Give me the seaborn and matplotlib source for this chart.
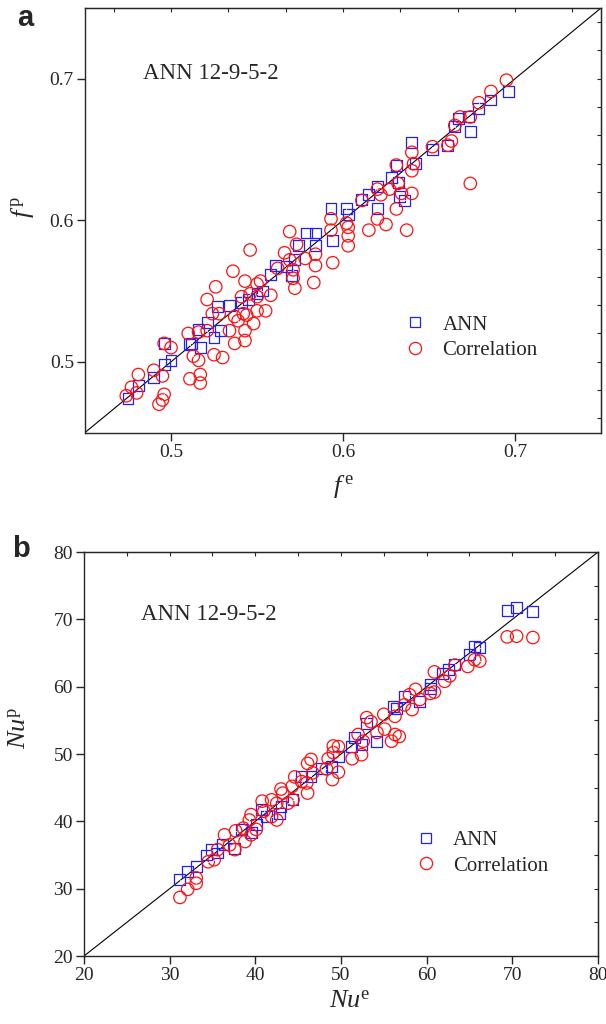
import matplotlib
matplotlib.use("Agg")
import matplotlib.pyplot as plt
from matplotlib.lines import Line2D
from matplotlib.ticker import MultipleLocator
import seaborn as sns
import pandas as pd

# panel a: friction factor, experimental vs predicted
f_ann_e = [0.696, 0.686, 0.679, 0.667, 0.673, 0.674, 0.665, 0.661, 0.652, 0.640,
           0.642, 0.631, 0.628, 0.632, 0.620, 0.615, 0.611, 0.636, 0.633, 0.620,
           0.593, 0.602, 0.603, 0.594, 0.579, 0.584, 0.584, 0.574, 0.572, 0.561,
           0.558, 0.570, 0.553, 0.550, 0.534, 0.527, 0.545, 0.521, 0.516, 0.517,
           0.511, 0.525, 0.529, 0.496, 0.500, 0.496, 0.490, 0.481, 0.475, 0.541,
           0.512, 0.567]
f_ann_p = [0.691, 0.685, 0.679, 0.672, 0.673, 0.663, 0.666, 0.653, 0.650, 0.655,
           0.640, 0.639, 0.630, 0.627, 0.624, 0.618, 0.615, 0.614, 0.617, 0.608,
           0.608, 0.608, 0.604, 0.586, 0.591, 0.591, 0.582, 0.582, 0.572, 0.568,
           0.562, 0.561, 0.550, 0.548, 0.540, 0.539, 0.544, 0.528, 0.523, 0.510,
           0.512, 0.517, 0.522, 0.513, 0.501, 0.498, 0.489, 0.483, 0.474, 0.542,
           0.513, 0.567]

f_cor_e = [0.695, 0.686, 0.679, 0.668, 0.674, 0.665, 0.663, 0.661, 0.652, 0.640,
           0.674, 0.631, 0.641, 0.640, 0.620, 0.632, 0.627, 0.622, 0.634, 0.640,
           0.611, 0.631, 0.620, 0.625, 0.615, 0.637, 0.593, 0.602, 0.593, 0.603,
           0.603, 0.603, 0.569, 0.573, 0.546, 0.566, 0.569, 0.584, 0.578, 0.584,
           0.562, 0.571, 0.594, 0.583, 0.571, 0.572, 0.536, 0.543, 0.550, 0.552,
           0.526, 0.521, 0.541, 0.546, 0.550, 0.558, 0.542, 0.537, 0.528, 0.524,
           0.555, 0.550, 0.544, 0.548, 0.534, 0.543, 0.543, 0.537, 0.521, 0.516,
           0.510, 0.525, 0.530, 0.513, 0.516, 0.517, 0.511, 0.517, 0.496, 0.500,
           0.481, 0.490, 0.495, 0.477, 0.474, 0.480, 0.496, 0.495, 0.493, 0.539]
f_cor_p = [0.699, 0.691, 0.683, 0.673, 0.673, 0.667, 0.656, 0.653, 0.652, 0.648,
           0.626, 0.639, 0.640, 0.635, 0.622, 0.626, 0.622, 0.618, 0.619, 0.619,
           0.614, 0.608, 0.601, 0.597, 0.593, 0.593, 0.601, 0.598, 0.593, 0.595,
           0.589, 0.582, 0.592, 0.583, 0.579, 0.577, 0.572, 0.576, 0.573, 0.568,
           0.566, 0.565, 0.570, 0.556, 0.559, 0.552, 0.564, 0.557, 0.555, 0.557,
           0.553, 0.544, 0.546, 0.548, 0.546, 0.547, 0.534, 0.532, 0.534, 0.534,
           0.536, 0.536, 0.533, 0.527, 0.522, 0.522, 0.515, 0.513, 0.522, 0.521,
           0.520, 0.505, 0.503, 0.504, 0.501, 0.491, 0.488, 0.485, 0.513, 0.510,
           0.491, 0.494, 0.490, 0.482, 0.476, 0.478, 0.477, 0.473, 0.470, 0.529]

# panel b: Nusselt number, experimental vs predicted
nu_ann_e = [69.4, 70.5, 72.4, 66.2, 65.6, 65.0, 63.3, 62.5, 61.9, 60.5,
            60.4, 59.2, 57.4, 56.5, 56.1, 54.1, 53.0, 51.6, 52.4, 51.2,
            49.7, 48.9, 47.7, 46.5, 45.4, 44.4, 42.8, 41.3, 40.7, 39.5,
            38.4, 37.6, 36.2, 35.6, 34.9, 34.3, 33.1, 32.1, 31.2, 43.0, 40.1]
nu_ann_p = [71.3, 71.7, 71.1, 65.8, 66.0, 64.8, 63.3, 62.5, 62.0, 60.3,
            59.8, 57.8, 58.6, 56.8, 57.0, 51.9, 54.6, 52.4, 51.4, 51.1,
            49.6, 48.2, 47.8, 46.7, 46.7, 43.2, 41.2, 40.7, 41.7, 38.3,
            38.8, 36.0, 36.5, 35.3, 35.8, 35.0, 33.3, 32.6, 31.3, 42.2, 39.5]

nu_cor_e = [69.4, 70.5, 72.4, 65.6, 66.2, 64.8, 63.3, 62.7, 62.1, 60.9,
            60.9, 60.4, 58.7, 58.0, 59.2, 58.3, 57.4, 56.3, 55.0, 53.0,
            53.5, 56.3, 55.9, 56.8, 54.2, 55.1, 52.0, 52.6, 52.4, 51.3,
            49.1, 49.7, 49.1, 48.5, 49.7, 49.0, 48.3, 46.1, 46.5, 46.7,
            46.0, 46.1, 45.4, 44.6, 44.3, 43.2, 43.0, 44.4, 43.8, 42.5,
            41.9, 40.8, 41.0, 41.9, 42.5, 39.5, 39.3, 40.1, 39.5, 38.6,
            37.7, 36.4, 37.0, 37.6, 38.8, 35.6, 34.5, 35.2, 33.1, 33.1,
            32.1, 31.2]
nu_cor_p = [67.4, 67.5, 67.3, 64.0, 63.8, 63.0, 63.2, 61.6, 60.8, 62.2,
            59.2, 59.0, 59.6, 58.8, 58.1, 56.6, 57.3, 55.6, 55.9, 55.4,
            54.8, 52.9, 51.9, 52.6, 53.2, 53.7, 52.9, 51.9, 49.9, 49.3,
            51.2, 51.1, 50.2, 49.3, 47.3, 46.2, 47.8, 48.6, 49.2, 47.2,
            45.7, 44.2, 45.9, 46.6, 45.2, 44.2, 44.8, 43.2, 42.7, 42.7,
            43.2, 43.0, 41.5, 40.7, 40.2, 41.0, 40.2, 38.8, 38.0, 39.0,
            38.6, 38.0, 36.5, 35.8, 37.0, 35.8, 34.0, 34.3, 31.6, 30.8,
            29.9, 28.7]

series_labels = ["ANN", "Correlation"]

sns.set_style("ticks")
plt.rcParams["font.family"] = ["Liberation Serif", "DejaVu Serif"]
plt.rcParams["mathtext.fontset"] = "custom"
plt.rcParams["mathtext.rm"] = "Liberation Serif"
plt.rcParams["mathtext.it"] = "Liberation Serif:italic"

blue = "#2020ff"
red = "#ff1010"

fig = plt.figure(figsize=(6.06, 10.24), dpi=100)
ax_a = fig.add_axes([0.1403, 0.5776, 0.8515, 0.4146])
ax_b = fig.add_axes([0.1386, 0.0664, 0.8482, 0.3945])


def draw_panel(ax, ann_x, ann_y, cor_x, cor_y):
    ann = pd.DataFrame({"e": ann_x, "p": ann_y})
    cor = pd.DataFrame({"e": cor_x, "p": cor_y})
    sns.scatterplot(data=ann, x="e", y="p", ax=ax, marker="s", s=62,
                    facecolor="none", edgecolor=blue, linewidth=0.9, zorder=3)
    sns.scatterplot(data=cor, x="e", y="p", ax=ax, marker="o", s=80,
                    facecolor="none", edgecolor=red, linewidth=0.9, zorder=4)
    # tiny centre dots
    sns.scatterplot(data=ann, x="e", y="p", ax=ax, marker=".", s=2,
                    color=blue, linewidth=0, zorder=3)
    sns.scatterplot(data=cor, x="e", y="p", ax=ax, marker=".", s=2,
                    color=red, linewidth=0, zorder=4)
    ax.axline((0, 0), slope=1, color="black", lw=0.8, zorder=2)
    for sp in ax.spines.values():
        sp.set_linewidth(1.0)
        sp.set_visible(True)
    ax.tick_params(axis="both", which="major", direction="out", length=6,
                   width=1.0, labelsize=14, pad=2)
    ax.set_xlabel("")
    ax.set_ylabel("")


def add_edge_ticks(ax, xstep, ystep):
    top = ax.secondary_xaxis("top")
    top.xaxis.set_major_locator(MultipleLocator(xstep))
    top.tick_params(direction="in", length=3, width=0.8, labeltop=False)
    right = ax.secondary_yaxis("right")
    right.yaxis.set_major_locator(MultipleLocator(ystep))
    right.tick_params(direction="in", length=3, width=0.8, labelright=False)


def add_legend(ax, anchor):
    handles = [
        Line2D([], [], ls="none", marker="s", ms=7.5, mfc="none", mec=blue, mew=0.9),
        Line2D([], [], ls="none", marker="o", ms=8.8, mfc="none", mec=red, mew=0.9),
    ]
    ax.legend(handles, series_labels, loc="upper left", bbox_to_anchor=anchor,
              frameon=False, fontsize=15, handlelength=1.0, handletextpad=0.8,
              labelspacing=0.28, borderpad=0, borderaxespad=0)


# panel a
draw_panel(ax_a, f_ann_e, f_ann_p, f_cor_e, f_cor_p)
ax_a.set_xlim(0.45, 0.75)
ax_a.set_ylim(0.45, 0.75)
ax_a.set_xticks([0.5, 0.6, 0.7])
ax_a.set_yticks([0.5, 0.6, 0.7])
ax_a.set_xticklabels(["0.5", "0.6", "0.7"])
ax_a.set_yticklabels(["0.5", "0.6", "0.7"])
add_edge_ticks(ax_a, 0.3 / 9, 0.02)
ax_a.text(0.4837, 0.7035, "ANN 12-9-5-2", fontsize=16.5, ha="left", va="center")
add_legend(ax_a, (0.62, 0.277))
ax_a.set_xlabel(r"$f^{\,\mathrm{e}}$", fontsize=19, labelpad=9)
ax_a.set_ylabel(r"$f^{\,\mathrm{p}}$", fontsize=19)
ax_a.yaxis.set_label_coords(-0.095, 0.53)

# panel b
draw_panel(ax_b, nu_ann_e, nu_ann_p, nu_cor_e, nu_cor_p)
ax_b.set_xlim(20, 80)
ax_b.set_ylim(20, 80)
ax_b.set_xticks(range(20, 81, 10))
ax_b.set_yticks(range(20, 81, 10))
add_edge_ticks(ax_b, 5, 5)
ax_b.text(26.7, 70.7, "ANN 12-9-5-2", fontsize=16.5, ha="left", va="center")
add_legend(ax_b, (0.645, 0.31))
ax_b.set_xlabel(r"$Nu^{\mathrm{e}}$", fontsize=19, labelpad=10)
ax_b.xaxis.set_label_coords(0.518, -0.085)
ax_b.set_ylabel(r"$Nu^{\mathrm{p}}$", fontsize=19)
ax_b.yaxis.set_label_coords(-0.103, 0.565)

fig.text(0.041, 0.982, "a", fontsize=21, fontweight="bold",
         family="Liberation Sans", ha="center", va="center")
fig.text(0.035, 0.464, "b", fontsize=21, fontweight="bold",
         family="Liberation Sans", ha="center", va="center")

fig.savefig("out.png", dpi=100)
